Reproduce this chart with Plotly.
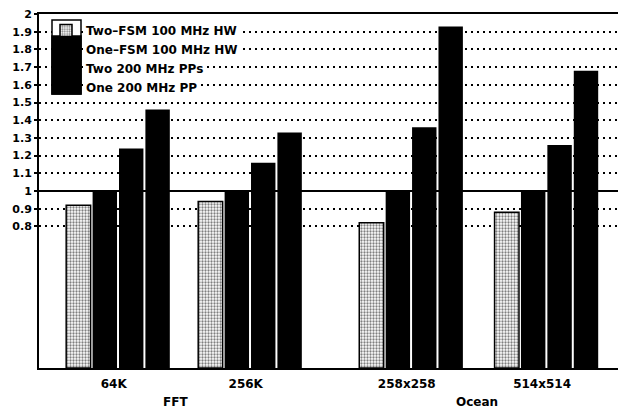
import plotly.graph_objects as go

# ---- data -------------------------------------------------------------
benchmarks = ["64K", "256K", "258x258", "514x514"]
suites = ["FFT", "Ocean"]
series_names = [
    "Two\u2013FSM 100 MHz HW",
    "One\u2013FSM 100 MHz HW",
    "Two 200 MHz PPs",
    "One 200 MHz PP",
]
two_fsm_hw = [0.92, 0.94, 0.82, 0.88]
one_fsm_hw = [1.00, 1.00, 1.00, 1.00]
two_pp = [1.24, 1.16, 1.36, 1.26]
one_pp = [1.46, 1.33, 1.93, 1.68]
y_ticks = [0.8, 0.9, 1.0, 1.1, 1.2, 1.3, 1.4, 1.5, 1.6, 1.7, 1.8, 1.9, 2.0]
y_tick_text = ["0.8", "0.9", "1", "1.1", "1.2", "1.3", "1.4", "1.5",
               "1.6", "1.7", "1.8", "1.9", "2"]

# ---- layout constants ----------------------------------------------------
W, H = 618, 408
ML, MR, MT, MB = 39, 0, 14, 40
PW, PH = W - ML - MR, H - MT - MB

group_x = [0.0, 1.0, 2.22, 3.245]      # group centres (unequal spacing)
suite_x = [0.43, 2.71]                 # centre of each suite's label
pitch, bar_w = 0.2, 0.185
x_range = [-0.606, 3.78]

FONT = "DejaVu Sans"


def px_x(px):
    return (px - ML) / PW


def px_y(py):
    return (MT + PH - py) / PH


series_vals = [two_fsm_hw, one_fsm_hw, two_pp, one_pp]

fig = go.Figure()
for i, (name, vals) in enumerate(zip(series_names, series_vals)):
    offset = -2 * pitch + i * pitch
    if i == 0:
        marker = dict(
            color="white",
            line=dict(color="black", width=1.5),
            pattern=dict(shape=".", fgcolor="black", bgcolor="white",
                         size=3, solidity=0.45),
        )
    else:
        marker = dict(color="black", line=dict(width=0))
    fig.add_trace(go.Bar(
        x=group_x, y=vals, name=name, width=bar_w, offset=offset,
        marker=marker,
    ))

shapes = []
# solid reference line at 1.0
shapes.append(dict(type="line", xref="paper", yref="y", x0=0, x1=1,
                   y0=1, y1=1, line=dict(color="black", width=2),
                   layer="between"))

# legend swatch box: stippled top, solid black below
bx0, bx1, by0, by1, bsplit = 52, 81, 20, 94, 36
shapes.append(dict(type="rect", xref="paper", yref="paper",
                   x0=px_x(bx0), x1=px_x(bx1), y0=px_y(by1), y1=px_y(by0),
                   fillcolor="white", line=dict(color="black", width=1.5),
                   layer="above"))
shapes.append(dict(type="rect", xref="paper", yref="paper",
                   x0=px_x(bx0), x1=px_x(bx1), y0=px_y(by1), y1=px_y(bsplit),
                   fillcolor="black", line=dict(color="black", width=1.5),
                   layer="above"))

# white backing behind each legend label so the grid stops at the text
row_c = [30, 49, 68, 87]
row_end = [240, 240, 206, 200]
for c, e in zip(row_c, row_end):
    shapes.append(dict(type="rect", xref="paper", yref="paper",
                       x0=px_x(84), x1=px_x(e), y0=px_y(c + 7), y1=px_y(c - 7),
                       fillcolor="white", line=dict(width=0), layer="above"))

annotations = []
for sx, s in zip(suite_x, suites):
    annotations.append(dict(x=sx, y=px_y(402), xref="x", yref="paper",
                            yanchor="middle", text=s, showarrow=False,
                            font=dict(family=FONT, size=12, color="black",
                                      weight="bold")))

fig.update_layout(
    width=W, height=H,
    margin=dict(l=ML, r=MR, t=MT, b=MB, pad=0),
    paper_bgcolor="white", plot_bgcolor="white",
    barmode="overlay",
    showlegend=True,
    legend=dict(x=px_x(46), y=px_y(16), xanchor="left", yanchor="top",
                bgcolor="rgba(0,0,0,0)", borderwidth=0,
                font=dict(family=FONT, size=12, color="black", weight="bold"),
                traceorder="normal"),
    shapes=shapes,
    annotations=annotations,
    font=dict(family=FONT, color="black"),
)

fig.update_xaxes(
    range=x_range, showgrid=False, zeroline=False,
    showline=True, linecolor="black", linewidth=2, mirror=True,
    tickmode="array", tickvals=[g - 0.04 for g in group_x], ticktext=benchmarks,
    ticks="", ticklabelstandoff=4,
    tickfont=dict(family=FONT, size=12, color="black", weight="bold"),
)
fig.update_yaxes(
    range=[0, 2], showgrid=True, gridcolor="black", gridwidth=1.5,
    griddash="1.5px,4.5px", zeroline=False,
    showline=True, linecolor="black", linewidth=2,
    tickmode="array", tickvals=y_ticks, ticktext=y_tick_text,
    ticks="outside", ticklen=3, tickwidth=1.5, tickcolor="black",
    tickfont=dict(family=FONT, size=11, color="black", weight="bold"),
)

fig.write_html("out.html")
